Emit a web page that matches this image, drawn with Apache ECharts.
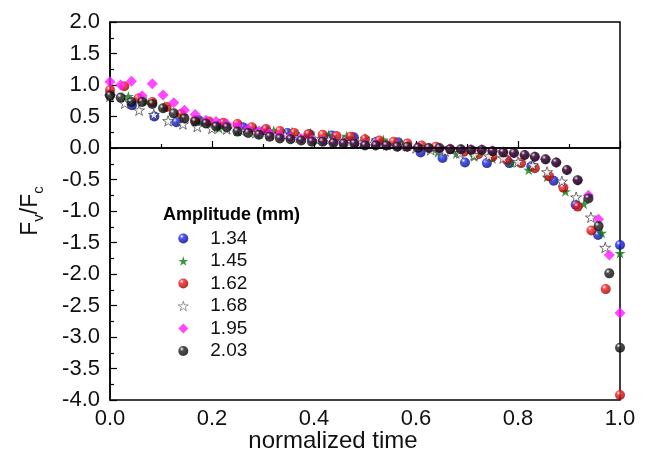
<!DOCTYPE html>
<html>
<head>
<meta charset="utf-8">
<script src="https://cdn.jsdelivr.net/npm/echarts@6/dist/echarts.min.js"></script>
<style>html,body{margin:0;padding:0;background:#fff;}#c{width:648px;height:462px;}</style>
</head>
<body>
<div id="c"></div>
<script>
// ---- data ----
const legendTitle = 'Amplitude (mm)';
const seriesNames = ['1.34', '1.45', '1.62', '1.68', '1.95', '2.03'];
const xTicks = ['0.0', '0.2', '0.4', '0.6', '0.8', '1.0'];

const time134 = [0, .043, .087, .130, .174, .217, .261, .304, .348, .391, .435, .478, .522, .565, .609, .652, .696, .739, .783, .826, .870, .913, .957, 1];
const val134 = [0.85, 0.68, 0.50, 0.41, 0.44, 0.38, 0.33, 0.28, 0.24, 0.22, 0.20, 0.17, 0.10, 0.09, -0.07, -0.16, -0.23, -0.24, -0.24, -0.29, -0.52, -0.90, -1.38, -1.54];

const time145 = [0, .036, .071, .107, .143, .179, .214, .250, .286, .321, .357, .393, .429, .464, .500, .536, .571, .607, .643, .679, .714, .750, .786, .821, .857, .893, .929, .964, 1];
const val145 = [0.83, 0.82, 0.74, 0.66, 0.52, 0.42, 0.31, 0.27, 0.30, 0.28, 0.26, 0.24, 0.21, 0.19, 0.16, 0.13, 0.08, 0.03, -0.07, -0.09, -0.14, -0.17, -0.23, -0.35, -0.46, -0.69, -0.89, -1.35, -1.67];

const time162 = [0, .028, .056, .083, .111, .139, .167, .194, .222, .250, .278, .306, .333, .361, .389, .417, .444, .472, .500, .528, .556, .583, .611, .639, .667, .694, .722, .750, .778, .806, .833, .861, .889, .917, .944, .972, 1];
const val162 = [0.92, 0.98, 0.79, 0.73, 0.65, 0.54, 0.44, 0.42, 0.40, 0.38, 0.33, 0.30, 0.27, 0.24, 0.22, 0.21, 0.19, 0.18, 0.14, 0.12, 0.10, 0.07, 0.04, 0.02, -0.02, -0.06, -0.10, -0.14, -0.19, -0.24, -0.32, -0.45, -0.63, -0.93, -1.31, -2.24, -3.92];

const time168 = [0, .029, .057, .086, .114, .143, .171, .200, .229, .257, .286, .314, .343, .371, .400, .429, .457, .486, .514, .543, .571, .600, .629, .657, .686, .714, .743, .771, .800, .829, .857, .886, .914, .943, .971];
const val168 = [0.82, 0.71, 0.60, 0.53, 0.43, 0.38, 0.34, 0.31, 0.30, 0.28, 0.24, 0.22, 0.20, 0.17, 0.15, 0.13, 0.11, 0.09, 0.07, 0.05, 0.03, 0.0, -0.03, -0.05, -0.08, -0.11, -0.13, -0.16, -0.22, -0.27, -0.38, -0.53, -0.78, -1.10, -1.58];

const time48 = [0, .021, .042, .063, .083, .104, .125, .146, .167, .188, .208, .229, .250, .271, .292, .313, .333, .354, .375, .396, .417, .438, .458, .479, .500, .521, .542, .563, .583, .604, .625, .646, .667, .688, .708, .729, .750, .771, .792, .813, .833, .854, .875, .896, .917, .938, .958, .979, 1];
const val195 = [1.05, 1.00, 1.06, 0.83, 1.02, 0.84, 0.72, 0.60, 0.53, 0.44, 0.42, 0.38, 0.35, 0.30, 0.27, 0.23, 0.20, 0.17, 0.15, 0.13, 0.12, 0.10, 0.09, 0.08, 0.06, 0.05, 0.04, 0.03, 0.02, 0.01, 0.0, -0.01, -0.01, -0.02, -0.02, -0.02, -0.04, -0.06, -0.08, -0.11, -0.14, -0.18, -0.23, -0.35, -0.51, -0.75, -1.13, -1.70, -2.62];
const val203 = [0.83, 0.80, 0.73, 0.73, 0.70, 0.63, 0.55, 0.47, 0.42, 0.39, 0.34, 0.33, 0.26, 0.24, 0.21, 0.18, 0.15, 0.14, 0.12, 0.10, 0.10, 0.08, 0.07, 0.07, 0.04, 0.04, 0.04, 0.02, 0.02, 0.005, 0.0, 0.0, -0.02, -0.02, -0.03, -0.03, -0.05, -0.07, -0.08, -0.11, -0.14, -0.18, -0.23, -0.35, -0.51, -0.80, -1.24, -1.99, -3.17];

// ---- chart ----
const FONT = '"Liberation Sans", Arial, sans-serif';
function pairs(xs, ys) { return xs.map((x, i) => [x, ys[i]]); }
function sphere(c1, c2) {
  return new echarts.graphic.RadialGradient(0.35, 0.3, 0.75, [
    { offset: 0, color: '#ffffff' },
    { offset: 0.28, color: c1 },
    { offset: 1, color: c2 }
  ]);
}
const STAR = 'path://M50,0L61.17,34.63L97.55,34.55L68.07,55.87L79.39,90.45L50,69L20.61,90.45L31.93,55.87L2.45,34.55L38.83,34.63Z';

const chart = echarts.init(document.getElementById('c'), null, { renderer: 'canvas' });

const seriesDefs = [
  { name: seriesNames[0], data: pairs(time134, val134), symbol: 'circle', symbolSize: 10, itemStyle: { color: sphere('#1a2cff', '#00006e') } },
  { name: seriesNames[1], data: pairs(time145, val145), symbol: STAR, symbolSize: 11, itemStyle: { color: '#0b7a12' } },
  { name: seriesNames[2], data: pairs(time162, val162), symbol: 'circle', symbolSize: 10, itemStyle: { color: sphere('#ff1a1a', '#8a0000') } },
  { name: seriesNames[3], data: pairs(time168, val168), symbol: STAR, symbolSize: 11, itemStyle: { color: '#ffffff', borderColor: '#222', borderWidth: 0.8 } },
  { name: seriesNames[4], data: pairs(time48, val195), symbol: 'diamond', symbolSize: 11, itemStyle: { color: '#ff1aff' } },
  { name: seriesNames[5], data: pairs(time48, val203), symbol: 'circle', symbolSize: 10, itemStyle: { color: sphere('#222222', '#000000') } }
];

const series = seriesDefs.map(d => Object.assign({ type: 'scatter', symbolKeepAspect: true, z: 3 }, d));
series[5].markLine = {
  silent: true, symbol: ['none', 'none'], label: { show: false }, animation: false,
  lineStyle: { color: '#000', width: 1.5, type: 'solid' },
  data: [{ yAxis: 0 }]
};

const axisCommon = {
  axisLine: { show: true, lineStyle: { color: '#000', width: 1.5 } },
  axisTick: { show: true, inside: true, length: 7, lineStyle: { color: '#000', width: 1.2 } },
  minorTick: { show: true, splitNumber: 2, length: 4, lineStyle: { color: '#000', width: 1.2 } },
  splitLine: { show: false },
  axisLabel: { color: '#111', fontSize: 22, fontFamily: FONT }
};

const legendData = seriesNames.map(n => n === '1.68'
  ? { name: n, itemStyle: { borderWidth: 0.6, borderColor: '#333' } }
  : { name: n });

chart.setOption({
  animation: false,
  backgroundColor: '#fff',
  grid: { left: 110, right: 28, top: 22, bottom: 62, show: true, borderColor: '#000', borderWidth: 1.5, backgroundColor: 'transparent' },
  title: { text: legendTitle, left: 163, top: 206, padding: 0, textStyle: { fontSize: 18, fontWeight: 'bold', fontFamily: FONT, color: '#000' } },
  legend: {
    orient: 'vertical', left: 178, top: 229, padding: 0, itemWidth: 10, itemHeight: 10, itemGap: 3.5,
    selectedMode: false, data: legendData,
    textStyle: { fontSize: 19, fontFamily: FONT, color: '#111', padding: [0, 0, 0, 17] }
  },
  xAxis: Object.assign({}, axisCommon, {
    type: 'value', min: 0, max: 1, interval: 0.2,
    axisLabel: Object.assign({}, axisCommon.axisLabel, { margin: 8, formatter: v => xTicks[Math.round(v / 0.2)] })
  }),
  yAxis: Object.assign({}, axisCommon, {
    type: 'value', min: -4, max: 2, interval: 0.5,
    axisLabel: Object.assign({}, axisCommon.axisLabel, { margin: 10, formatter: v => v.toFixed(1) }),
    name: '{a|F}{s|v}{a|/F}{s|c}', nameLocation: 'middle', nameGap: 64, nameRotate: 90,
    nameTextStyle: {
      rich: {
        a: { fontSize: 23, fontFamily: FONT, color: '#111', lineHeight: 30 },
        s: { fontSize: 15, fontFamily: FONT, color: '#111', lineHeight: 14, verticalAlign: 'bottom' }
      }
    }
  }),
  graphic: [{
    type: 'text', x: 333, y: 441,
    style: { text: 'normalized time', fontSize: 24, fontFamily: FONT, fill: '#111', align: 'center', verticalAlign: 'middle' }
  }],
  series: series
});
</script>
</body>
</html>
